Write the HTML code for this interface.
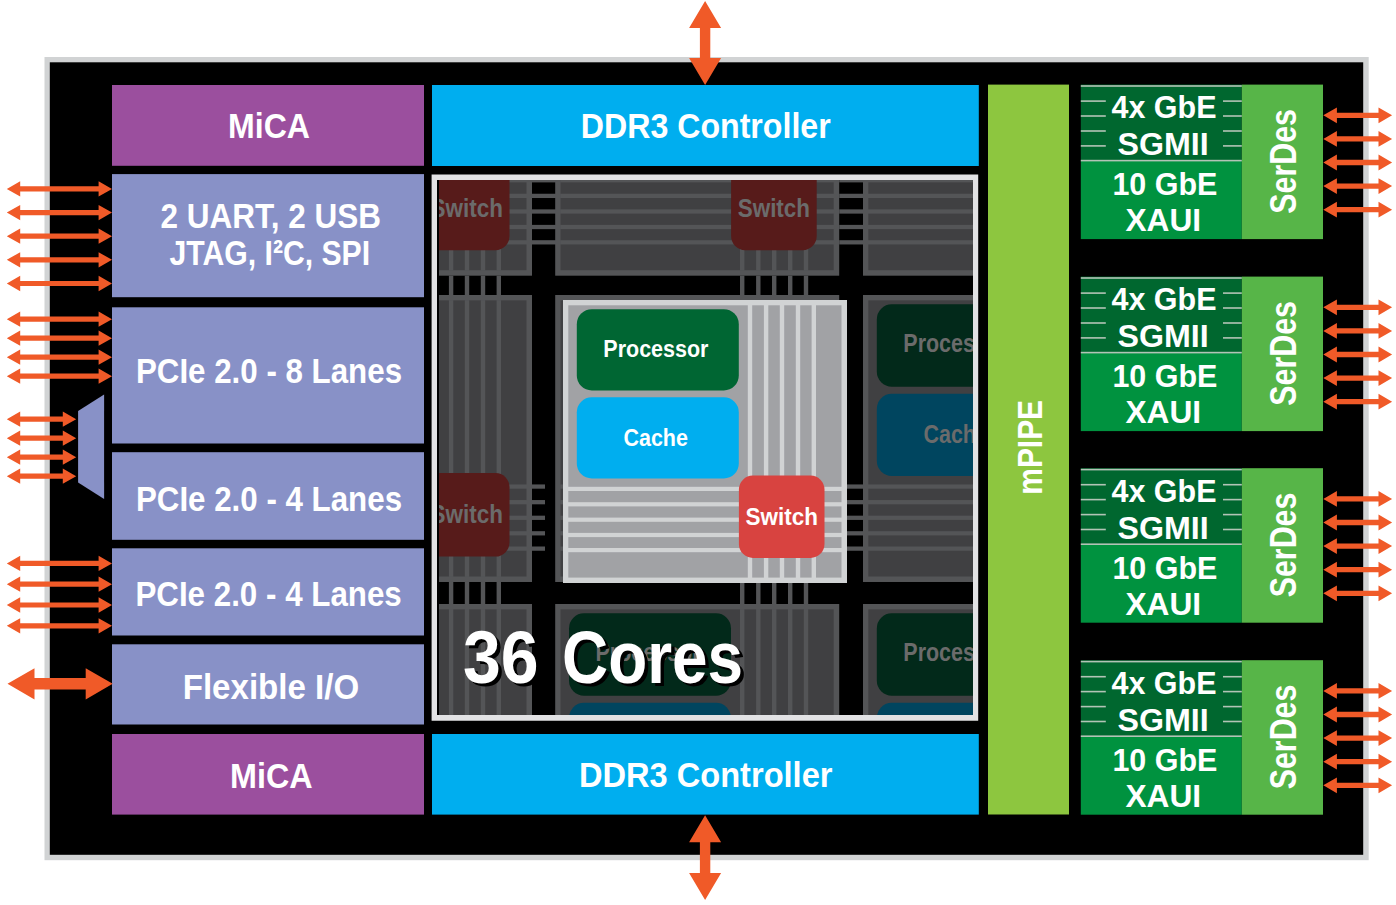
<!DOCTYPE html>
<html><head><meta charset="utf-8"><style>
html,body{margin:0;padding:0;background:#fff;overflow:hidden;}
svg{display:block;}
text{font-family:"Liberation Sans",sans-serif;font-weight:bold;}
</style></head><body>
<svg width="1396" height="905" viewBox="0 0 1396 905">
<rect x="44.50" y="57.00" width="1324.20" height="803.20" fill="#D1D3D4"/>
<rect x="49.80" y="62.30" width="1313.40" height="792.50" fill="#000"/>
<rect x="112.00" y="85.00" width="312.00" height="80.80" fill="#9B4F9E"/>
<rect x="112.00" y="174.10" width="312.00" height="123.10" fill="#8891C7"/>
<rect x="112.00" y="307.30" width="312.00" height="136.20" fill="#8891C7"/>
<rect x="112.00" y="452.20" width="312.00" height="87.60" fill="#8891C7"/>
<rect x="112.00" y="548.30" width="312.00" height="87.20" fill="#8891C7"/>
<rect x="112.00" y="644.30" width="312.00" height="80.20" fill="#8891C7"/>
<rect x="112.00" y="734.00" width="312.00" height="80.60" fill="#9B4F9E"/>
<polygon points="78.1,410.9 104.1,394.6 104.1,499.1 78.1,482.5" fill="#8891C7"/>
<rect x="432.00" y="85.00" width="546.80" height="81.00" fill="#00AEEF"/>
<rect x="432.00" y="734.00" width="546.80" height="80.60" fill="#00AEEF"/>
<rect x="988.00" y="84.60" width="81.00" height="729.90" fill="#8DC63F"/>
<rect x="1080.80" y="84.60" width="161.00" height="75.60" fill="#00672F"/>
<rect x="1080.80" y="160.20" width="161.00" height="78.90" fill="#00923F"/>
<rect x="1241.80" y="84.60" width="81.20" height="154.50" fill="#57B548"/>
<rect x="1080.80" y="85.20" width="161.00" height="1.60" fill="#B2C4B6"/>
<rect x="1080.80" y="159.80" width="161.00" height="1.60" fill="#B2C4B6"/>
<rect x="1080.80" y="100.30" width="25.00" height="1.60" fill="#B2C4B6"/>
<rect x="1223.00" y="100.30" width="18.80" height="1.60" fill="#B2C4B6"/>
<rect x="1080.80" y="115.20" width="25.00" height="1.60" fill="#B2C4B6"/>
<rect x="1223.00" y="115.20" width="18.80" height="1.60" fill="#B2C4B6"/>
<rect x="1080.80" y="130.20" width="25.00" height="1.60" fill="#B2C4B6"/>
<rect x="1223.00" y="130.20" width="18.80" height="1.60" fill="#B2C4B6"/>
<rect x="1080.80" y="145.10" width="25.00" height="1.60" fill="#B2C4B6"/>
<rect x="1223.00" y="145.10" width="18.80" height="1.60" fill="#B2C4B6"/>
<text transform="translate(1111.50,118.10) scale(0.9760,1)" font-size="31.25" fill="#fff">4x GbE</text>
<text transform="translate(1117.50,155.20) scale(1.0309,1)" font-size="31.25" fill="#fff">SGMII</text>
<text transform="translate(1112.40,194.90) scale(0.9760,1)" font-size="31.25" fill="#fff">10 GbE</text>
<text transform="translate(1125.50,231.30) scale(1.0140,1)" font-size="31.25" fill="#fff">XAUI</text>
<text transform="translate(1296.40,213.70) rotate(-90) translate(-0.00,0) scale(0.8426,1)" font-size="36.05" fill="#fff">SerDes</text>
<polygon points="1323.30,115.30 1336.90,107.40 1336.90,112.65 1378.50,112.65 1378.50,107.40 1392.10,115.30 1378.50,123.20 1378.50,117.95 1336.90,117.95 1336.90,123.20" fill="#F05A28"/>
<polygon points="1323.30,138.90 1336.90,131.00 1336.90,136.25 1378.50,136.25 1378.50,131.00 1392.10,138.90 1378.50,146.80 1378.50,141.55 1336.90,141.55 1336.90,146.80" fill="#F05A28"/>
<polygon points="1323.30,162.50 1336.90,154.60 1336.90,159.85 1378.50,159.85 1378.50,154.60 1392.10,162.50 1378.50,170.40 1378.50,165.15 1336.90,165.15 1336.90,170.40" fill="#F05A28"/>
<polygon points="1323.30,186.10 1336.90,178.20 1336.90,183.45 1378.50,183.45 1378.50,178.20 1392.10,186.10 1378.50,194.00 1378.50,188.75 1336.90,188.75 1336.90,194.00" fill="#F05A28"/>
<polygon points="1323.30,209.70 1336.90,201.80 1336.90,207.05 1378.50,207.05 1378.50,201.80 1392.10,209.70 1378.50,217.60 1378.50,212.35 1336.90,212.35 1336.90,217.60" fill="#F05A28"/>
<rect x="1080.80" y="276.60" width="161.00" height="75.60" fill="#00672F"/>
<rect x="1080.80" y="352.20" width="161.00" height="78.90" fill="#00923F"/>
<rect x="1241.80" y="276.60" width="81.20" height="154.50" fill="#57B548"/>
<rect x="1080.80" y="277.20" width="161.00" height="1.60" fill="#B2C4B6"/>
<rect x="1080.80" y="351.80" width="161.00" height="1.60" fill="#B2C4B6"/>
<rect x="1080.80" y="292.30" width="25.00" height="1.60" fill="#B2C4B6"/>
<rect x="1223.00" y="292.30" width="18.80" height="1.60" fill="#B2C4B6"/>
<rect x="1080.80" y="307.20" width="25.00" height="1.60" fill="#B2C4B6"/>
<rect x="1223.00" y="307.20" width="18.80" height="1.60" fill="#B2C4B6"/>
<rect x="1080.80" y="322.20" width="25.00" height="1.60" fill="#B2C4B6"/>
<rect x="1223.00" y="322.20" width="18.80" height="1.60" fill="#B2C4B6"/>
<rect x="1080.80" y="337.10" width="25.00" height="1.60" fill="#B2C4B6"/>
<rect x="1223.00" y="337.10" width="18.80" height="1.60" fill="#B2C4B6"/>
<text transform="translate(1111.50,310.10) scale(0.9760,1)" font-size="31.25" fill="#fff">4x GbE</text>
<text transform="translate(1117.50,347.20) scale(1.0309,1)" font-size="31.25" fill="#fff">SGMII</text>
<text transform="translate(1112.40,386.90) scale(0.9760,1)" font-size="31.25" fill="#fff">10 GbE</text>
<text transform="translate(1125.50,423.30) scale(1.0140,1)" font-size="31.25" fill="#fff">XAUI</text>
<text transform="translate(1296.40,405.70) rotate(-90) translate(-0.00,0) scale(0.8426,1)" font-size="36.05" fill="#fff">SerDes</text>
<polygon points="1323.30,307.30 1336.90,299.40 1336.90,304.65 1378.50,304.65 1378.50,299.40 1392.10,307.30 1378.50,315.20 1378.50,309.95 1336.90,309.95 1336.90,315.20" fill="#F05A28"/>
<polygon points="1323.30,330.90 1336.90,323.00 1336.90,328.25 1378.50,328.25 1378.50,323.00 1392.10,330.90 1378.50,338.80 1378.50,333.55 1336.90,333.55 1336.90,338.80" fill="#F05A28"/>
<polygon points="1323.30,354.50 1336.90,346.60 1336.90,351.85 1378.50,351.85 1378.50,346.60 1392.10,354.50 1378.50,362.40 1378.50,357.15 1336.90,357.15 1336.90,362.40" fill="#F05A28"/>
<polygon points="1323.30,378.10 1336.90,370.20 1336.90,375.45 1378.50,375.45 1378.50,370.20 1392.10,378.10 1378.50,386.00 1378.50,380.75 1336.90,380.75 1336.90,386.00" fill="#F05A28"/>
<polygon points="1323.30,401.70 1336.90,393.80 1336.90,399.05 1378.50,399.05 1378.50,393.80 1392.10,401.70 1378.50,409.60 1378.50,404.35 1336.90,404.35 1336.90,409.60" fill="#F05A28"/>
<rect x="1080.80" y="468.20" width="161.00" height="75.60" fill="#00672F"/>
<rect x="1080.80" y="543.80" width="161.00" height="78.90" fill="#00923F"/>
<rect x="1241.80" y="468.20" width="81.20" height="154.50" fill="#57B548"/>
<rect x="1080.80" y="468.80" width="161.00" height="1.60" fill="#B2C4B6"/>
<rect x="1080.80" y="543.40" width="161.00" height="1.60" fill="#B2C4B6"/>
<rect x="1080.80" y="483.90" width="25.00" height="1.60" fill="#B2C4B6"/>
<rect x="1223.00" y="483.90" width="18.80" height="1.60" fill="#B2C4B6"/>
<rect x="1080.80" y="498.80" width="25.00" height="1.60" fill="#B2C4B6"/>
<rect x="1223.00" y="498.80" width="18.80" height="1.60" fill="#B2C4B6"/>
<rect x="1080.80" y="513.80" width="25.00" height="1.60" fill="#B2C4B6"/>
<rect x="1223.00" y="513.80" width="18.80" height="1.60" fill="#B2C4B6"/>
<rect x="1080.80" y="528.70" width="25.00" height="1.60" fill="#B2C4B6"/>
<rect x="1223.00" y="528.70" width="18.80" height="1.60" fill="#B2C4B6"/>
<text transform="translate(1111.50,501.70) scale(0.9760,1)" font-size="31.25" fill="#fff">4x GbE</text>
<text transform="translate(1117.50,538.80) scale(1.0309,1)" font-size="31.25" fill="#fff">SGMII</text>
<text transform="translate(1112.40,578.50) scale(0.9760,1)" font-size="31.25" fill="#fff">10 GbE</text>
<text transform="translate(1125.50,614.90) scale(1.0140,1)" font-size="31.25" fill="#fff">XAUI</text>
<text transform="translate(1296.40,597.30) rotate(-90) translate(-0.00,0) scale(0.8426,1)" font-size="36.05" fill="#fff">SerDes</text>
<polygon points="1323.30,498.90 1336.90,491.00 1336.90,496.25 1378.50,496.25 1378.50,491.00 1392.10,498.90 1378.50,506.80 1378.50,501.55 1336.90,501.55 1336.90,506.80" fill="#F05A28"/>
<polygon points="1323.30,522.50 1336.90,514.60 1336.90,519.85 1378.50,519.85 1378.50,514.60 1392.10,522.50 1378.50,530.40 1378.50,525.15 1336.90,525.15 1336.90,530.40" fill="#F05A28"/>
<polygon points="1323.30,546.10 1336.90,538.20 1336.90,543.45 1378.50,543.45 1378.50,538.20 1392.10,546.10 1378.50,554.00 1378.50,548.75 1336.90,548.75 1336.90,554.00" fill="#F05A28"/>
<polygon points="1323.30,569.70 1336.90,561.80 1336.90,567.05 1378.50,567.05 1378.50,561.80 1392.10,569.70 1378.50,577.60 1378.50,572.35 1336.90,572.35 1336.90,577.60" fill="#F05A28"/>
<polygon points="1323.30,593.30 1336.90,585.40 1336.90,590.65 1378.50,590.65 1378.50,585.40 1392.10,593.30 1378.50,601.20 1378.50,595.95 1336.90,595.95 1336.90,601.20" fill="#F05A28"/>
<rect x="1080.80" y="660.20" width="161.00" height="75.60" fill="#00672F"/>
<rect x="1080.80" y="735.80" width="161.00" height="78.90" fill="#00923F"/>
<rect x="1241.80" y="660.20" width="81.20" height="154.50" fill="#57B548"/>
<rect x="1080.80" y="660.80" width="161.00" height="1.60" fill="#B2C4B6"/>
<rect x="1080.80" y="735.40" width="161.00" height="1.60" fill="#B2C4B6"/>
<rect x="1080.80" y="675.90" width="25.00" height="1.60" fill="#B2C4B6"/>
<rect x="1223.00" y="675.90" width="18.80" height="1.60" fill="#B2C4B6"/>
<rect x="1080.80" y="690.80" width="25.00" height="1.60" fill="#B2C4B6"/>
<rect x="1223.00" y="690.80" width="18.80" height="1.60" fill="#B2C4B6"/>
<rect x="1080.80" y="705.80" width="25.00" height="1.60" fill="#B2C4B6"/>
<rect x="1223.00" y="705.80" width="18.80" height="1.60" fill="#B2C4B6"/>
<rect x="1080.80" y="720.70" width="25.00" height="1.60" fill="#B2C4B6"/>
<rect x="1223.00" y="720.70" width="18.80" height="1.60" fill="#B2C4B6"/>
<text transform="translate(1111.50,693.70) scale(0.9760,1)" font-size="31.25" fill="#fff">4x GbE</text>
<text transform="translate(1117.50,730.80) scale(1.0309,1)" font-size="31.25" fill="#fff">SGMII</text>
<text transform="translate(1112.40,770.50) scale(0.9760,1)" font-size="31.25" fill="#fff">10 GbE</text>
<text transform="translate(1125.50,806.90) scale(1.0140,1)" font-size="31.25" fill="#fff">XAUI</text>
<text transform="translate(1296.40,789.30) rotate(-90) translate(-0.00,0) scale(0.8426,1)" font-size="36.05" fill="#fff">SerDes</text>
<polygon points="1323.30,690.90 1336.90,683.00 1336.90,688.25 1378.50,688.25 1378.50,683.00 1392.10,690.90 1378.50,698.80 1378.50,693.55 1336.90,693.55 1336.90,698.80" fill="#F05A28"/>
<polygon points="1323.30,714.50 1336.90,706.60 1336.90,711.85 1378.50,711.85 1378.50,706.60 1392.10,714.50 1378.50,722.40 1378.50,717.15 1336.90,717.15 1336.90,722.40" fill="#F05A28"/>
<polygon points="1323.30,738.10 1336.90,730.20 1336.90,735.45 1378.50,735.45 1378.50,730.20 1392.10,738.10 1378.50,746.00 1378.50,740.75 1336.90,740.75 1336.90,746.00" fill="#F05A28"/>
<polygon points="1323.30,761.70 1336.90,753.80 1336.90,759.05 1378.50,759.05 1378.50,753.80 1392.10,761.70 1378.50,769.60 1378.50,764.35 1336.90,764.35 1336.90,769.60" fill="#F05A28"/>
<polygon points="1323.30,785.30 1336.90,777.40 1336.90,782.65 1378.50,782.65 1378.50,777.40 1392.10,785.30 1378.50,793.20 1378.50,787.95 1336.90,787.95 1336.90,793.20" fill="#F05A28"/>
<polygon points="6.80,188.90 20.20,181.25 20.20,186.30 98.60,186.30 98.60,181.25 112.00,188.90 98.60,196.55 98.60,191.50 20.20,191.50 20.20,196.55" fill="#F05A28"/>
<polygon points="6.80,212.55 20.20,204.90 20.20,209.95 98.60,209.95 98.60,204.90 112.00,212.55 98.60,220.20 98.60,215.15 20.20,215.15 20.20,220.20" fill="#F05A28"/>
<polygon points="6.80,236.20 20.20,228.55 20.20,233.60 98.60,233.60 98.60,228.55 112.00,236.20 98.60,243.85 98.60,238.80 20.20,238.80 20.20,243.85" fill="#F05A28"/>
<polygon points="6.80,259.85 20.20,252.20 20.20,257.25 98.60,257.25 98.60,252.20 112.00,259.85 98.60,267.50 98.60,262.45 20.20,262.45 20.20,267.50" fill="#F05A28"/>
<polygon points="6.80,283.50 20.20,275.85 20.20,280.90 98.60,280.90 98.60,275.85 112.00,283.50 98.60,291.15 98.60,286.10 20.20,286.10 20.20,291.15" fill="#F05A28"/>
<polygon points="6.80,319.20 20.20,311.55 20.20,316.60 98.60,316.60 98.60,311.55 112.00,319.20 98.60,326.85 98.60,321.80 20.20,321.80 20.20,326.85" fill="#F05A28"/>
<polygon points="6.80,338.20 20.20,330.55 20.20,335.60 98.60,335.60 98.60,330.55 112.00,338.20 98.60,345.85 98.60,340.80 20.20,340.80 20.20,345.85" fill="#F05A28"/>
<polygon points="6.80,357.20 20.20,349.55 20.20,354.60 98.60,354.60 98.60,349.55 112.00,357.20 98.60,364.85 98.60,359.80 20.20,359.80 20.20,364.85" fill="#F05A28"/>
<polygon points="6.80,376.20 20.20,368.55 20.20,373.60 98.60,373.60 98.60,368.55 112.00,376.20 98.60,383.85 98.60,378.80 20.20,378.80 20.20,383.85" fill="#F05A28"/>
<polygon points="6.80,419.20 20.20,411.55 20.20,416.60 62.80,416.60 62.80,411.55 76.20,419.20 62.80,426.85 62.80,421.80 20.20,421.80 20.20,426.85" fill="#F05A28"/>
<polygon points="6.80,438.20 20.20,430.55 20.20,435.60 62.80,435.60 62.80,430.55 76.20,438.20 62.80,445.85 62.80,440.80 20.20,440.80 20.20,445.85" fill="#F05A28"/>
<polygon points="6.80,457.20 20.20,449.55 20.20,454.60 62.80,454.60 62.80,449.55 76.20,457.20 62.80,464.85 62.80,459.80 20.20,459.80 20.20,464.85" fill="#F05A28"/>
<polygon points="6.80,476.20 20.20,468.55 20.20,473.60 62.80,473.60 62.80,468.55 76.20,476.20 62.80,483.85 62.80,478.80 20.20,478.80 20.20,483.85" fill="#F05A28"/>
<polygon points="6.80,563.40 20.20,555.75 20.20,560.80 98.60,560.80 98.60,555.75 112.00,563.40 98.60,571.05 98.60,566.00 20.20,566.00 20.20,571.05" fill="#F05A28"/>
<polygon points="6.80,584.20 20.20,576.55 20.20,581.60 98.60,581.60 98.60,576.55 112.00,584.20 98.60,591.85 98.60,586.80 20.20,586.80 20.20,591.85" fill="#F05A28"/>
<polygon points="6.80,605.00 20.20,597.35 20.20,602.40 98.60,602.40 98.60,597.35 112.00,605.00 98.60,612.65 98.60,607.60 20.20,607.60 20.20,612.65" fill="#F05A28"/>
<polygon points="6.80,625.80 20.20,618.15 20.20,623.20 98.60,623.20 98.60,618.15 112.00,625.80 98.60,633.45 98.60,628.40 20.20,628.40 20.20,633.45" fill="#F05A28"/>
<polygon points="7.50,683.80 34.50,668.20 34.50,678.00 85.70,678.00 85.70,668.20 112.70,683.80 85.70,699.40 85.70,689.60 34.50,689.60 34.50,699.40" fill="#F05A28"/>
<polygon points="705.10,1.00 721.10,28.00 710.30,28.00 710.30,58.00 721.10,58.00 705.10,85.00 689.10,58.00 699.90,58.00 699.90,28.00 689.10,28.00" fill="#F05A28"/>
<polygon points="705.10,815.20 721.10,842.20 710.30,842.20 710.30,873.10 721.10,873.10 705.10,900.10 689.10,873.10 699.90,873.10 699.90,842.20 689.10,842.20" fill="#F05A28"/>
<text transform="translate(228.00,138.40) scale(0.9087,1)" font-size="35.32" fill="#fff">MiCA</text>
<text transform="translate(160.60,228.30) scale(0.8917,1)" font-size="35.32" fill="#fff">2 UART, 2 USB</text>
<text transform="translate(169.60,265.30) scale(0.8542,1)" font-size="35.32" fill="#fff">JTAG, I²C, SPI</text>
<text transform="translate(135.90,383.30) scale(0.8866,1)" font-size="35.32" fill="#fff">PCIe 2.0 - 8 Lanes</text>
<text transform="translate(135.90,510.60) scale(0.8866,1)" font-size="35.32" fill="#fff">PCIe 2.0 - 4 Lanes</text>
<text transform="translate(135.40,605.90) scale(0.8873,1)" font-size="35.32" fill="#fff">PCIe 2.0 - 4 Lanes</text>
<text transform="translate(182.70,698.50) scale(0.9367,1)" font-size="35.32" fill="#fff">Flexible I/O</text>
<text transform="translate(230.00,787.60) scale(0.9164,1)" font-size="35.32" fill="#fff">MiCA</text>
<text transform="translate(580.80,137.50) scale(0.9291,1)" font-size="34.59" fill="#fff">DDR3 Controller</text>
<text transform="translate(578.90,787.00) scale(0.9425,1)" font-size="34.59" fill="#fff">DDR3 Controller</text>
<text transform="translate(1041.70,494.70) rotate(-90) translate(-0.00,0) scale(0.8438,1)" font-size="35.47" fill="#fff">mPIPE</text>
<defs><clipPath id="cc"><rect x="439" y="180" width="534" height="535"/></clipPath></defs>
<g clip-path="url(#cc)">
<g transform="translate(248,-11.3) scale(1,1.0141)"><rect x="284.00" y="186.80" width="24.00" height="4.20" fill="#545557"/><rect x="284.00" y="202.20" width="24.00" height="4.20" fill="#545557"/><rect x="284.00" y="217.60" width="24.00" height="4.20" fill="#545557"/><rect x="284.00" y="232.90" width="24.00" height="4.20" fill="#545557"/><rect x="284.00" y="248.00" width="24.00" height="4.20" fill="#545557"/><rect x="184.80" y="283.00" width="4.40" height="24.00" fill="#545557"/><rect x="200.90" y="283.00" width="4.40" height="24.00" fill="#545557"/><rect x="216.80" y="283.00" width="4.40" height="24.00" fill="#545557"/><rect x="232.80" y="283.00" width="4.40" height="24.00" fill="#545557"/><rect x="248.60" y="283.00" width="4.40" height="24.00" fill="#545557"/><rect x="0.00" y="0.00" width="284.00" height="283.00" fill="#545557"/><rect x="5.30" y="5.30" width="273.20" height="272.30" fill="#404042"/><rect x="184.80" y="5.00" width="4.40" height="273.00" fill="#545557"/><rect x="200.90" y="5.00" width="4.40" height="273.00" fill="#545557"/><rect x="216.80" y="5.00" width="4.40" height="273.00" fill="#545557"/><rect x="232.80" y="5.00" width="4.40" height="273.00" fill="#545557"/><rect x="248.60" y="5.00" width="4.40" height="273.00" fill="#545557"/><rect x="5.00" y="186.80" width="274.00" height="4.20" fill="#545557"/><rect x="5.00" y="202.20" width="274.00" height="4.20" fill="#545557"/><rect x="5.00" y="217.60" width="274.00" height="4.20" fill="#545557"/><rect x="5.00" y="232.90" width="274.00" height="4.20" fill="#545557"/><rect x="5.00" y="248.00" width="274.00" height="4.20" fill="#545557"/><rect x="13.8" y="9.2" width="162" height="81.2" rx="15" fill="#02291A"/><rect x="13.8" y="97.3" width="162" height="81.1" rx="15" fill="#00455F"/><rect x="175.9" y="175.6" width="85.6" height="82.3" rx="14" fill="#571B1A"/><text transform="translate(40.30,56.50) scale(0.8703,1)" font-size="24.71" fill="#6B6B6B">Processor</text><text transform="translate(60.50,146.40) scale(0.8685,1)" font-size="24.71" fill="#6B6B6B">Cache</text><text transform="translate(182.50,224.90) scale(0.9091,1)" font-size="24.71" fill="#6B6B6B">Switch</text></g>
<g transform="translate(555.2,-11.3) scale(1,1.0141)"><rect x="284.00" y="186.80" width="24.00" height="4.20" fill="#545557"/><rect x="284.00" y="202.20" width="24.00" height="4.20" fill="#545557"/><rect x="284.00" y="217.60" width="24.00" height="4.20" fill="#545557"/><rect x="284.00" y="232.90" width="24.00" height="4.20" fill="#545557"/><rect x="284.00" y="248.00" width="24.00" height="4.20" fill="#545557"/><rect x="184.80" y="283.00" width="4.40" height="24.00" fill="#545557"/><rect x="200.90" y="283.00" width="4.40" height="24.00" fill="#545557"/><rect x="216.80" y="283.00" width="4.40" height="24.00" fill="#545557"/><rect x="232.80" y="283.00" width="4.40" height="24.00" fill="#545557"/><rect x="248.60" y="283.00" width="4.40" height="24.00" fill="#545557"/><rect x="0.00" y="0.00" width="284.00" height="283.00" fill="#545557"/><rect x="5.30" y="5.30" width="273.20" height="272.30" fill="#404042"/><rect x="184.80" y="5.00" width="4.40" height="273.00" fill="#545557"/><rect x="200.90" y="5.00" width="4.40" height="273.00" fill="#545557"/><rect x="216.80" y="5.00" width="4.40" height="273.00" fill="#545557"/><rect x="232.80" y="5.00" width="4.40" height="273.00" fill="#545557"/><rect x="248.60" y="5.00" width="4.40" height="273.00" fill="#545557"/><rect x="5.00" y="186.80" width="274.00" height="4.20" fill="#545557"/><rect x="5.00" y="202.20" width="274.00" height="4.20" fill="#545557"/><rect x="5.00" y="217.60" width="274.00" height="4.20" fill="#545557"/><rect x="5.00" y="232.90" width="274.00" height="4.20" fill="#545557"/><rect x="5.00" y="248.00" width="274.00" height="4.20" fill="#545557"/><rect x="13.8" y="9.2" width="162" height="81.2" rx="15" fill="#02291A"/><rect x="13.8" y="97.3" width="162" height="81.1" rx="15" fill="#00455F"/><rect x="175.9" y="175.6" width="85.6" height="82.3" rx="14" fill="#571B1A"/><text transform="translate(40.30,56.50) scale(0.8703,1)" font-size="24.71" fill="#6B6B6B">Processor</text><text transform="translate(60.50,146.40) scale(0.8685,1)" font-size="24.71" fill="#6B6B6B">Cache</text><text transform="translate(182.50,224.90) scale(0.9091,1)" font-size="24.71" fill="#6B6B6B">Switch</text></g>
<g transform="translate(863,-11.3) scale(1,1.0141)"><rect x="284.00" y="186.80" width="24.00" height="4.20" fill="#545557"/><rect x="284.00" y="202.20" width="24.00" height="4.20" fill="#545557"/><rect x="284.00" y="217.60" width="24.00" height="4.20" fill="#545557"/><rect x="284.00" y="232.90" width="24.00" height="4.20" fill="#545557"/><rect x="284.00" y="248.00" width="24.00" height="4.20" fill="#545557"/><rect x="184.80" y="283.00" width="4.40" height="24.00" fill="#545557"/><rect x="200.90" y="283.00" width="4.40" height="24.00" fill="#545557"/><rect x="216.80" y="283.00" width="4.40" height="24.00" fill="#545557"/><rect x="232.80" y="283.00" width="4.40" height="24.00" fill="#545557"/><rect x="248.60" y="283.00" width="4.40" height="24.00" fill="#545557"/><rect x="0.00" y="0.00" width="284.00" height="283.00" fill="#545557"/><rect x="5.30" y="5.30" width="273.20" height="272.30" fill="#404042"/><rect x="184.80" y="5.00" width="4.40" height="273.00" fill="#545557"/><rect x="200.90" y="5.00" width="4.40" height="273.00" fill="#545557"/><rect x="216.80" y="5.00" width="4.40" height="273.00" fill="#545557"/><rect x="232.80" y="5.00" width="4.40" height="273.00" fill="#545557"/><rect x="248.60" y="5.00" width="4.40" height="273.00" fill="#545557"/><rect x="5.00" y="186.80" width="274.00" height="4.20" fill="#545557"/><rect x="5.00" y="202.20" width="274.00" height="4.20" fill="#545557"/><rect x="5.00" y="217.60" width="274.00" height="4.20" fill="#545557"/><rect x="5.00" y="232.90" width="274.00" height="4.20" fill="#545557"/><rect x="5.00" y="248.00" width="274.00" height="4.20" fill="#545557"/><rect x="13.8" y="9.2" width="162" height="81.2" rx="15" fill="#02291A"/><rect x="13.8" y="97.3" width="162" height="81.1" rx="15" fill="#00455F"/><rect x="175.9" y="175.6" width="85.6" height="82.3" rx="14" fill="#571B1A"/><text transform="translate(40.30,56.50) scale(0.8703,1)" font-size="24.71" fill="#6B6B6B">Processor</text><text transform="translate(60.50,146.40) scale(0.8685,1)" font-size="24.71" fill="#6B6B6B">Cache</text><text transform="translate(182.50,224.90) scale(0.9091,1)" font-size="24.71" fill="#6B6B6B">Switch</text></g>
<g transform="translate(248,295) scale(1,1.0141)"><rect x="284.00" y="186.80" width="13.00" height="4.20" fill="#545557"/><rect x="284.00" y="202.20" width="13.00" height="4.20" fill="#545557"/><rect x="284.00" y="217.60" width="13.00" height="4.20" fill="#545557"/><rect x="284.00" y="232.90" width="13.00" height="4.20" fill="#545557"/><rect x="284.00" y="248.00" width="13.00" height="4.20" fill="#545557"/><rect x="184.80" y="283.00" width="4.40" height="24.00" fill="#545557"/><rect x="200.90" y="283.00" width="4.40" height="24.00" fill="#545557"/><rect x="216.80" y="283.00" width="4.40" height="24.00" fill="#545557"/><rect x="232.80" y="283.00" width="4.40" height="24.00" fill="#545557"/><rect x="248.60" y="283.00" width="4.40" height="24.00" fill="#545557"/><rect x="0.00" y="0.00" width="284.00" height="283.00" fill="#545557"/><rect x="5.30" y="5.30" width="273.20" height="272.30" fill="#404042"/><rect x="184.80" y="5.00" width="4.40" height="273.00" fill="#545557"/><rect x="200.90" y="5.00" width="4.40" height="273.00" fill="#545557"/><rect x="216.80" y="5.00" width="4.40" height="273.00" fill="#545557"/><rect x="232.80" y="5.00" width="4.40" height="273.00" fill="#545557"/><rect x="248.60" y="5.00" width="4.40" height="273.00" fill="#545557"/><rect x="5.00" y="186.80" width="274.00" height="4.20" fill="#545557"/><rect x="5.00" y="202.20" width="274.00" height="4.20" fill="#545557"/><rect x="5.00" y="217.60" width="274.00" height="4.20" fill="#545557"/><rect x="5.00" y="232.90" width="274.00" height="4.20" fill="#545557"/><rect x="5.00" y="248.00" width="274.00" height="4.20" fill="#545557"/><rect x="13.8" y="9.2" width="162" height="81.2" rx="15" fill="#02291A"/><rect x="13.8" y="97.3" width="162" height="81.1" rx="15" fill="#00455F"/><rect x="175.9" y="175.6" width="85.6" height="82.3" rx="14" fill="#571B1A"/><text transform="translate(40.30,56.50) scale(0.8703,1)" font-size="24.71" fill="#6B6B6B">Processor</text><text transform="translate(60.50,146.40) scale(0.8685,1)" font-size="24.71" fill="#6B6B6B">Cache</text><text transform="translate(182.50,224.90) scale(0.9091,1)" font-size="24.71" fill="#6B6B6B">Switch</text></g>
<g transform="translate(555.2,295) scale(1,1.0141)"><rect x="284.00" y="186.80" width="24.00" height="4.20" fill="#545557"/><rect x="284.00" y="202.20" width="24.00" height="4.20" fill="#545557"/><rect x="284.00" y="217.60" width="24.00" height="4.20" fill="#545557"/><rect x="284.00" y="232.90" width="24.00" height="4.20" fill="#545557"/><rect x="284.00" y="248.00" width="24.00" height="4.20" fill="#545557"/><rect x="184.80" y="283.00" width="4.40" height="24.00" fill="#545557"/><rect x="200.90" y="283.00" width="4.40" height="24.00" fill="#545557"/><rect x="216.80" y="283.00" width="4.40" height="24.00" fill="#545557"/><rect x="232.80" y="283.00" width="4.40" height="24.00" fill="#545557"/><rect x="248.60" y="283.00" width="4.40" height="24.00" fill="#545557"/><rect x="0.00" y="0.00" width="284.00" height="283.00" fill="#545557"/><rect x="5.30" y="5.30" width="273.20" height="272.30" fill="#404042"/><rect x="184.80" y="5.00" width="4.40" height="273.00" fill="#545557"/><rect x="200.90" y="5.00" width="4.40" height="273.00" fill="#545557"/><rect x="216.80" y="5.00" width="4.40" height="273.00" fill="#545557"/><rect x="232.80" y="5.00" width="4.40" height="273.00" fill="#545557"/><rect x="248.60" y="5.00" width="4.40" height="273.00" fill="#545557"/><rect x="5.00" y="186.80" width="274.00" height="4.20" fill="#545557"/><rect x="5.00" y="202.20" width="274.00" height="4.20" fill="#545557"/><rect x="5.00" y="217.60" width="274.00" height="4.20" fill="#545557"/><rect x="5.00" y="232.90" width="274.00" height="4.20" fill="#545557"/><rect x="5.00" y="248.00" width="274.00" height="4.20" fill="#545557"/><rect x="13.8" y="9.2" width="162" height="81.2" rx="15" fill="#02291A"/><rect x="13.8" y="97.3" width="162" height="81.1" rx="15" fill="#00455F"/><rect x="175.9" y="175.6" width="85.6" height="82.3" rx="14" fill="#571B1A"/><text transform="translate(40.30,56.50) scale(0.8703,1)" font-size="24.71" fill="#6B6B6B">Processor</text><text transform="translate(60.50,146.40) scale(0.8685,1)" font-size="24.71" fill="#6B6B6B">Cache</text><text transform="translate(182.50,224.90) scale(0.9091,1)" font-size="24.71" fill="#6B6B6B">Switch</text></g>
<g transform="translate(863,295) scale(1,1.0141)"><rect x="284.00" y="186.80" width="24.00" height="4.20" fill="#545557"/><rect x="284.00" y="202.20" width="24.00" height="4.20" fill="#545557"/><rect x="284.00" y="217.60" width="24.00" height="4.20" fill="#545557"/><rect x="284.00" y="232.90" width="24.00" height="4.20" fill="#545557"/><rect x="284.00" y="248.00" width="24.00" height="4.20" fill="#545557"/><rect x="184.80" y="283.00" width="4.40" height="24.00" fill="#545557"/><rect x="200.90" y="283.00" width="4.40" height="24.00" fill="#545557"/><rect x="216.80" y="283.00" width="4.40" height="24.00" fill="#545557"/><rect x="232.80" y="283.00" width="4.40" height="24.00" fill="#545557"/><rect x="248.60" y="283.00" width="4.40" height="24.00" fill="#545557"/><rect x="0.00" y="0.00" width="284.00" height="283.00" fill="#545557"/><rect x="5.30" y="5.30" width="273.20" height="272.30" fill="#404042"/><rect x="184.80" y="5.00" width="4.40" height="273.00" fill="#545557"/><rect x="200.90" y="5.00" width="4.40" height="273.00" fill="#545557"/><rect x="216.80" y="5.00" width="4.40" height="273.00" fill="#545557"/><rect x="232.80" y="5.00" width="4.40" height="273.00" fill="#545557"/><rect x="248.60" y="5.00" width="4.40" height="273.00" fill="#545557"/><rect x="5.00" y="186.80" width="274.00" height="4.20" fill="#545557"/><rect x="5.00" y="202.20" width="274.00" height="4.20" fill="#545557"/><rect x="5.00" y="217.60" width="274.00" height="4.20" fill="#545557"/><rect x="5.00" y="232.90" width="274.00" height="4.20" fill="#545557"/><rect x="5.00" y="248.00" width="274.00" height="4.20" fill="#545557"/><rect x="13.8" y="9.2" width="162" height="81.2" rx="15" fill="#02291A"/><rect x="13.8" y="97.3" width="162" height="81.1" rx="15" fill="#00455F"/><rect x="175.9" y="175.6" width="85.6" height="82.3" rx="14" fill="#571B1A"/><text transform="translate(40.30,56.50) scale(0.8703,1)" font-size="24.71" fill="#6B6B6B">Processor</text><text transform="translate(60.50,146.40) scale(0.8685,1)" font-size="24.71" fill="#6B6B6B">Cache</text><text transform="translate(182.50,224.90) scale(0.9091,1)" font-size="24.71" fill="#6B6B6B">Switch</text></g>
<g transform="translate(248,604) scale(1,1.0141)"><rect x="284.00" y="186.80" width="24.00" height="4.20" fill="#545557"/><rect x="284.00" y="202.20" width="24.00" height="4.20" fill="#545557"/><rect x="284.00" y="217.60" width="24.00" height="4.20" fill="#545557"/><rect x="284.00" y="232.90" width="24.00" height="4.20" fill="#545557"/><rect x="284.00" y="248.00" width="24.00" height="4.20" fill="#545557"/><rect x="184.80" y="283.00" width="4.40" height="24.00" fill="#545557"/><rect x="200.90" y="283.00" width="4.40" height="24.00" fill="#545557"/><rect x="216.80" y="283.00" width="4.40" height="24.00" fill="#545557"/><rect x="232.80" y="283.00" width="4.40" height="24.00" fill="#545557"/><rect x="248.60" y="283.00" width="4.40" height="24.00" fill="#545557"/><rect x="0.00" y="0.00" width="284.00" height="283.00" fill="#545557"/><rect x="5.30" y="5.30" width="273.20" height="272.30" fill="#404042"/><rect x="184.80" y="5.00" width="4.40" height="273.00" fill="#545557"/><rect x="200.90" y="5.00" width="4.40" height="273.00" fill="#545557"/><rect x="216.80" y="5.00" width="4.40" height="273.00" fill="#545557"/><rect x="232.80" y="5.00" width="4.40" height="273.00" fill="#545557"/><rect x="248.60" y="5.00" width="4.40" height="273.00" fill="#545557"/><rect x="5.00" y="186.80" width="274.00" height="4.20" fill="#545557"/><rect x="5.00" y="202.20" width="274.00" height="4.20" fill="#545557"/><rect x="5.00" y="217.60" width="274.00" height="4.20" fill="#545557"/><rect x="5.00" y="232.90" width="274.00" height="4.20" fill="#545557"/><rect x="5.00" y="248.00" width="274.00" height="4.20" fill="#545557"/><rect x="13.8" y="9.2" width="162" height="81.2" rx="15" fill="#02291A"/><rect x="13.8" y="97.3" width="162" height="81.1" rx="15" fill="#00455F"/><rect x="175.9" y="175.6" width="85.6" height="82.3" rx="14" fill="#571B1A"/><text transform="translate(40.30,56.50) scale(0.8703,1)" font-size="24.71" fill="#6B6B6B">Processor</text><text transform="translate(60.50,146.40) scale(0.8685,1)" font-size="24.71" fill="#6B6B6B">Cache</text><text transform="translate(182.50,224.90) scale(0.9091,1)" font-size="24.71" fill="#6B6B6B">Switch</text></g>
<g transform="translate(555.2,604) scale(1,1.0141)"><rect x="284.00" y="186.80" width="24.00" height="4.20" fill="#545557"/><rect x="284.00" y="202.20" width="24.00" height="4.20" fill="#545557"/><rect x="284.00" y="217.60" width="24.00" height="4.20" fill="#545557"/><rect x="284.00" y="232.90" width="24.00" height="4.20" fill="#545557"/><rect x="284.00" y="248.00" width="24.00" height="4.20" fill="#545557"/><rect x="184.80" y="283.00" width="4.40" height="24.00" fill="#545557"/><rect x="200.90" y="283.00" width="4.40" height="24.00" fill="#545557"/><rect x="216.80" y="283.00" width="4.40" height="24.00" fill="#545557"/><rect x="232.80" y="283.00" width="4.40" height="24.00" fill="#545557"/><rect x="248.60" y="283.00" width="4.40" height="24.00" fill="#545557"/><rect x="0.00" y="0.00" width="284.00" height="283.00" fill="#545557"/><rect x="5.30" y="5.30" width="273.20" height="272.30" fill="#404042"/><rect x="184.80" y="5.00" width="4.40" height="273.00" fill="#545557"/><rect x="200.90" y="5.00" width="4.40" height="273.00" fill="#545557"/><rect x="216.80" y="5.00" width="4.40" height="273.00" fill="#545557"/><rect x="232.80" y="5.00" width="4.40" height="273.00" fill="#545557"/><rect x="248.60" y="5.00" width="4.40" height="273.00" fill="#545557"/><rect x="5.00" y="186.80" width="274.00" height="4.20" fill="#545557"/><rect x="5.00" y="202.20" width="274.00" height="4.20" fill="#545557"/><rect x="5.00" y="217.60" width="274.00" height="4.20" fill="#545557"/><rect x="5.00" y="232.90" width="274.00" height="4.20" fill="#545557"/><rect x="5.00" y="248.00" width="274.00" height="4.20" fill="#545557"/><rect x="13.8" y="9.2" width="162" height="81.2" rx="15" fill="#02291A"/><rect x="13.8" y="97.3" width="162" height="81.1" rx="15" fill="#00455F"/><rect x="175.9" y="175.6" width="85.6" height="82.3" rx="14" fill="#571B1A"/><text transform="translate(40.30,56.50) scale(0.8703,1)" font-size="24.71" fill="#6B6B6B">Processor</text><text transform="translate(60.50,146.40) scale(0.8685,1)" font-size="24.71" fill="#6B6B6B">Cache</text><text transform="translate(182.50,224.90) scale(0.9091,1)" font-size="24.71" fill="#6B6B6B">Switch</text></g>
<g transform="translate(863,604) scale(1,1.0141)"><rect x="284.00" y="186.80" width="24.00" height="4.20" fill="#545557"/><rect x="284.00" y="202.20" width="24.00" height="4.20" fill="#545557"/><rect x="284.00" y="217.60" width="24.00" height="4.20" fill="#545557"/><rect x="284.00" y="232.90" width="24.00" height="4.20" fill="#545557"/><rect x="284.00" y="248.00" width="24.00" height="4.20" fill="#545557"/><rect x="184.80" y="283.00" width="4.40" height="24.00" fill="#545557"/><rect x="200.90" y="283.00" width="4.40" height="24.00" fill="#545557"/><rect x="216.80" y="283.00" width="4.40" height="24.00" fill="#545557"/><rect x="232.80" y="283.00" width="4.40" height="24.00" fill="#545557"/><rect x="248.60" y="283.00" width="4.40" height="24.00" fill="#545557"/><rect x="0.00" y="0.00" width="284.00" height="283.00" fill="#545557"/><rect x="5.30" y="5.30" width="273.20" height="272.30" fill="#404042"/><rect x="184.80" y="5.00" width="4.40" height="273.00" fill="#545557"/><rect x="200.90" y="5.00" width="4.40" height="273.00" fill="#545557"/><rect x="216.80" y="5.00" width="4.40" height="273.00" fill="#545557"/><rect x="232.80" y="5.00" width="4.40" height="273.00" fill="#545557"/><rect x="248.60" y="5.00" width="4.40" height="273.00" fill="#545557"/><rect x="5.00" y="186.80" width="274.00" height="4.20" fill="#545557"/><rect x="5.00" y="202.20" width="274.00" height="4.20" fill="#545557"/><rect x="5.00" y="217.60" width="274.00" height="4.20" fill="#545557"/><rect x="5.00" y="232.90" width="274.00" height="4.20" fill="#545557"/><rect x="5.00" y="248.00" width="274.00" height="4.20" fill="#545557"/><rect x="13.8" y="9.2" width="162" height="81.2" rx="15" fill="#02291A"/><rect x="13.8" y="97.3" width="162" height="81.1" rx="15" fill="#00455F"/><rect x="175.9" y="175.6" width="85.6" height="82.3" rx="14" fill="#571B1A"/><text transform="translate(40.30,56.50) scale(0.8703,1)" font-size="24.71" fill="#6B6B6B">Processor</text><text transform="translate(60.50,146.40) scale(0.8685,1)" font-size="24.71" fill="#6B6B6B">Cache</text><text transform="translate(182.50,224.90) scale(0.9091,1)" font-size="24.71" fill="#6B6B6B">Switch</text></g>
</g>
<g transform="translate(563,300)"><rect x="0.00" y="0.00" width="284.00" height="283.00" fill="#D1D3D4"/><rect x="5.30" y="5.30" width="273.20" height="272.30" fill="#A1A2A5"/><rect x="184.80" y="5.00" width="4.40" height="273.00" fill="#D1D3D4"/><rect x="200.90" y="5.00" width="4.40" height="273.00" fill="#D1D3D4"/><rect x="216.80" y="5.00" width="4.40" height="273.00" fill="#D1D3D4"/><rect x="232.80" y="5.00" width="4.40" height="273.00" fill="#D1D3D4"/><rect x="248.60" y="5.00" width="4.40" height="273.00" fill="#D1D3D4"/><rect x="5.00" y="186.80" width="274.00" height="4.20" fill="#D1D3D4"/><rect x="5.00" y="202.20" width="274.00" height="4.20" fill="#D1D3D4"/><rect x="5.00" y="217.60" width="274.00" height="4.20" fill="#D1D3D4"/><rect x="5.00" y="232.90" width="274.00" height="4.20" fill="#D1D3D4"/><rect x="5.00" y="248.00" width="274.00" height="4.20" fill="#D1D3D4"/><rect x="13.8" y="9.2" width="162" height="81.2" rx="15" fill="#006633"/><rect x="13.8" y="97.3" width="162" height="81.1" rx="15" fill="#00AEEF"/><rect x="175.9" y="175.6" width="85.6" height="82.3" rx="14" fill="#D84340"/><text transform="translate(40.30,56.50) scale(0.8703,1)" font-size="24.71" fill="#fff">Processor</text><text transform="translate(60.50,146.40) scale(0.8685,1)" font-size="24.71" fill="#fff">Cache</text><text transform="translate(182.50,224.90) scale(0.9091,1)" font-size="24.71" fill="#fff">Switch</text></g>
<path fill-rule="evenodd" fill="#E2E2E4" d="M431.6,174.4H978.2V720.7H431.6Z M437,180H973V715H437Z"/>
<text transform="translate(466.40,686.30) scale(0.9082,1)" font-size="74.85" fill="#000">36</text>
<text transform="translate(565.50,686.30) scale(0.8537,1)" font-size="74.85" fill="#000">Cores</text>
<text transform="translate(462.90,682.80) scale(0.9082,1)" font-size="74.85" fill="#fff">36</text>
<text transform="translate(562.00,682.80) scale(0.8537,1)" font-size="74.85" fill="#fff">Cores</text>
</svg>
</body></html>
